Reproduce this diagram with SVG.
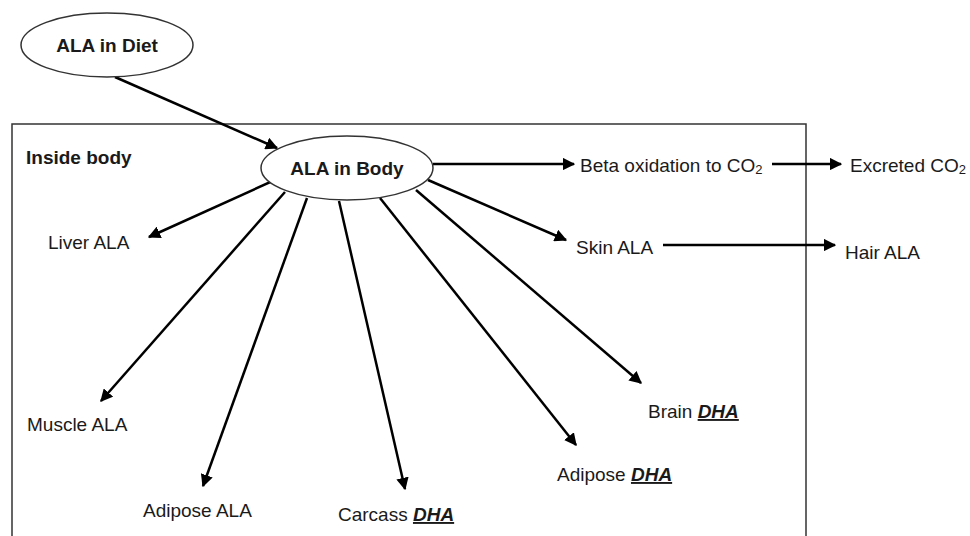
<svg xmlns="http://www.w3.org/2000/svg" width="970" height="536" viewBox="0 0 970 536">
<defs>
<marker id="ah" viewBox="0 0 10 10" refX="9" refY="5" markerWidth="5" markerHeight="5" orient="auto" markerUnits="strokeWidth">
<path d="M0,0 L10,5 L0,10 z" fill="#000"/>
</marker>
<style>
text{font-family:"Liberation Sans",Arial,sans-serif;font-size:19px;fill:#1a1a1a}
.b{font-weight:bold}
.dha{font-weight:bold;font-style:italic;text-decoration:underline}
.e{fill:#fff;stroke:#333;stroke-width:1.5}
.c line{stroke:#000;stroke-width:2.5;marker-end:url(#ah)}
</style>
</defs>
<rect width="970" height="536" fill="#fff"/>
<g id="body-box"><path d="M12,536 V124 H806 V536" fill="none" stroke="#333" stroke-width="1.5"/>
<text class="b" x="26" y="164" font-size="18">Inside body</text></g>
<g class="c" id="connectors">
<line x1="115" y1="77" x2="277" y2="148"/>
<line x1="433" y1="164" x2="574" y2="164"/>
<line x1="288" y1="174" x2="149" y2="237"/>
<line x1="285" y1="192" x2="101" y2="401"/>
<line x1="307" y1="198" x2="203" y2="486"/>
<line x1="339" y1="201" x2="405" y2="489"/>
<line x1="380" y1="198" x2="576" y2="445"/>
<line x1="416" y1="190" x2="641" y2="383"/>
<line x1="428" y1="180" x2="566" y2="240"/>
<line x1="772" y1="164" x2="841" y2="164"/>
<line x1="663" y1="245" x2="835" y2="245"/>
</g>
<g id="diet"><ellipse class="e" cx="107" cy="45" rx="86" ry="32"/><text class="b" x="107" y="52" text-anchor="middle">ALA in Diet</text></g>
<g id="alabody"><ellipse class="e" cx="347" cy="168" rx="86" ry="32"/><text class="b" x="347" y="175" text-anchor="middle">ALA in Body</text></g>
<g id="beta"><text x="580" y="172">Beta oxidation to CO<tspan font-size="13" dy="2">2</tspan></text></g>
<g id="excreted"><text x="850" y="172">Excreted CO<tspan font-size="13" dy="2">2</tspan></text></g>
<g id="liver"><text x="48" y="249">Liver ALA</text></g>
<g id="skin"><text x="576" y="254">Skin ALA</text></g>
<g id="hair"><text x="845" y="259">Hair ALA</text></g>
<g id="muscle"><text x="27" y="431">Muscle ALA</text></g>
<g id="brain"><text x="648" y="418">Brain <tspan class="dha">DHA</tspan></text></g>
<g id="adiposedha"><text x="557" y="481">Adipose <tspan class="dha">DHA</tspan></text></g>
<g id="adiposeala"><text x="143" y="517">Adipose ALA</text></g>
<g id="carcass"><text x="338" y="521">Carcass <tspan class="dha">DHA</tspan></text></g>
</svg>
